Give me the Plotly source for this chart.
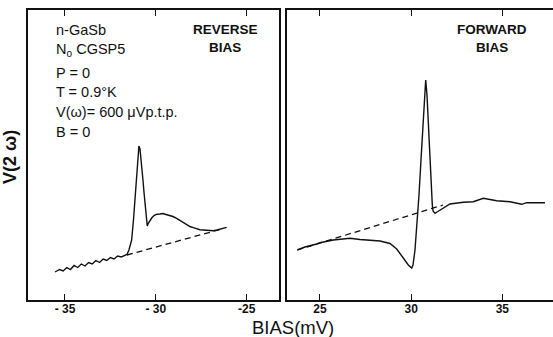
import plotly.graph_objects as go

# ---- data (bias in mV, V(2w) in arbitrary units) ----
rev_x = [-35.55, -35.3, -35.1, -34.9, -34.7, -34.5, -34.3, -34.1, -33.9, -33.7, -33.5, -33.3,
         -33.1, -32.9, -32.7, -32.5, -32.3, -32.1, -31.9, -31.7, -31.59,
         -31.48, -31.33, -31.23, -31.15, -31.05, -30.98, -30.93,
         -30.872, -30.817, -30.762, -30.707, -30.652, -30.597, -30.542, -30.471,
         -30.405, -30.322, -30.228, -30.102, -29.937, -29.772, -29.607, -29.441, -29.222,
         -29.056, -28.853, -28.671, -28.489, -28.286, -28.121, -27.939, -27.735, -27.570,
         -27.389, -27.185, -27.020, -26.838, -26.635, -26.470, -26.305, -26.101]
rev_y = [28, 30.5, 29, 32.5, 30.5, 34.5, 32.5, 36, 34, 37.5, 36, 39.5,
         37.5, 41, 39.5, 42.5, 41, 44, 43, 45, 45.5,
         50, 60, 80, 100, 125, 145, 154,
         151, 142, 131, 120, 108, 96, 85, 74,
         77, 80, 82, 84.5, 85.8, 86, 86.5, 85.5, 84.7,
         83.5, 81.7, 79.5, 77.3, 75, 73.5, 72.3, 71, 70.3,
         70, 69.5, 69.5, 69.3, 70, 70.7, 71.7, 72.7]
rev_base_x = [-31.59, -26.47]
rev_base_y = [45, 70.5]

fwd_x = [23.755, 24.177, 24.819, 25.0, 25.730, 26.646, 27.194, 27.743, 28.291, 28.840,
         29.207, 29.569, 29.844, 30.030, 30.101, 30.211, 30.321, 30.431, 30.540, 30.650,
         30.732, 30.798, 30.869, 30.952, 31.034, 31.105, 31.160, 31.199, 31.308, 31.418,
         31.583, 32.131, 32.861, 33.409, 33.958, 34.693, 35.422, 36.064, 36.338, 36.887, 37.342]
fwd_y = [50, 53, 56, 57.3, 60, 61.7, 60.5, 60, 59, 56.5,
         51, 42, 35, 32, 35, 50, 75, 105, 140, 180,
         205, 220, 205, 170, 135, 110, 95, 89, 86.7, 88,
         90, 96, 97.7, 98.3, 101.7, 99.3, 98.3, 95.7, 97.3, 97.7, 97.3]
fwd_base_x = [23.755, 31.75]
fwd_base_y = [50, 95]

rev_ticks = [-35, -30, -25]
rev_ticktext = ["<b>- 35</b>", "<b>- 30</b>", "<b>-25</b>"]
fwd_ticks = [25, 30, 35]
fwd_ticktext = ["<b>25</b>", "<b>30</b>", "<b>35</b>"]

ink = "#111111"
FONT = "Liberation Sans"

fig = go.Figure()
fig.add_trace(go.Scatter(x=rev_x, y=rev_y, mode="lines", line=dict(color=ink, width=1.4),
                         xaxis="x", yaxis="y", showlegend=False))
fig.add_trace(go.Scatter(x=rev_base_x, y=rev_base_y, mode="lines",
                         line=dict(color=ink, width=1.3, dash="6px,4px"),
                         xaxis="x", yaxis="y", showlegend=False))
fig.add_trace(go.Scatter(x=fwd_x, y=fwd_y, mode="lines", line=dict(color=ink, width=1.4),
                         xaxis="x2", yaxis="y2", showlegend=False))
fig.add_trace(go.Scatter(x=fwd_base_x, y=fwd_base_y, mode="lines",
                         line=dict(color=ink, width=1.3, dash="6px,4px"),
                         xaxis="x2", yaxis="y2", showlegend=False))

axis_common = dict(showgrid=False, zeroline=False, showline=True, linecolor=ink, linewidth=1.6,
                   ticks="inside", ticklen=6, tickwidth=1.3, tickcolor=ink,
                   ticklabelstandoff=-3,
                   tickfont=dict(family=FONT, size=12, color=ink))

fig.update_layout(
    width=553, height=337,
    margin=dict(l=28, r=0, t=10, b=37),
    paper_bgcolor="white", plot_bgcolor="white",
    xaxis=dict(domain=[0, 0.478], range=[-37.036, -23.222], tickvals=rev_ticks,
               ticktext=rev_ticktext, mirror="ticks", anchor="y", **axis_common),
    yaxis=dict(domain=[0, 1], range=[0, 290], showgrid=False, zeroline=False, showline=True,
               linecolor=ink, linewidth=1.6, mirror=True, showticklabels=False, ticks="",
               anchor="x"),
    xaxis2=dict(domain=[0.4933, 1], range=[23.19, 37.78], tickvals=fwd_ticks,
                ticktext=fwd_ticktext, mirror="ticks", anchor="y2", **axis_common),
    yaxis2=dict(domain=[0, 1], range=[0, 290], showgrid=False, zeroline=False, showline=True,
                linecolor=ink, linewidth=1.6, mirror=False, showticklabels=False, ticks="",
                anchor="x2"),
)

ann = []

def px(xp, yp, s, size=14.5, xanchor="left", angle=0):
    # pixel coords -> paper coords of the plot area
    ann.append(dict(x=(xp - 28) / 525.0, y=(300 - yp) / 290.0, xref="paper", yref="paper",
                    text=s, showarrow=False, xanchor=xanchor, yanchor="middle", textangle=angle,
                    font=dict(family=FONT, size=size, color=ink)))

px(54, 30, "n-GaSb")
px(54, 50, "N<sub>o</sub> CGSP5")
px(54, 73, "P = 0")
px(54, 92, "T = 0.9°K")
px(54, 112, "V(ω)= 600 μVp.t.p.")
px(54, 132, "B = 0")
px(225, 29, "<b>REVERSE</b>", 13.5, "center")
px(225, 47, "<b>BIAS</b>", 13.5, "center")
px(492, 29, "<b>FORWARD</b>", 13.5, "center")
px(492, 47, "<b>BIAS</b>", 13.5, "center")
px(293, 327, "BIAS(mV)", 18.5, "center")
px(10, 157, "<b>V(2 ω)</b>", 18, "center", -90)

fig.update_layout(annotations=ann)

fig.write_html("out.html")
